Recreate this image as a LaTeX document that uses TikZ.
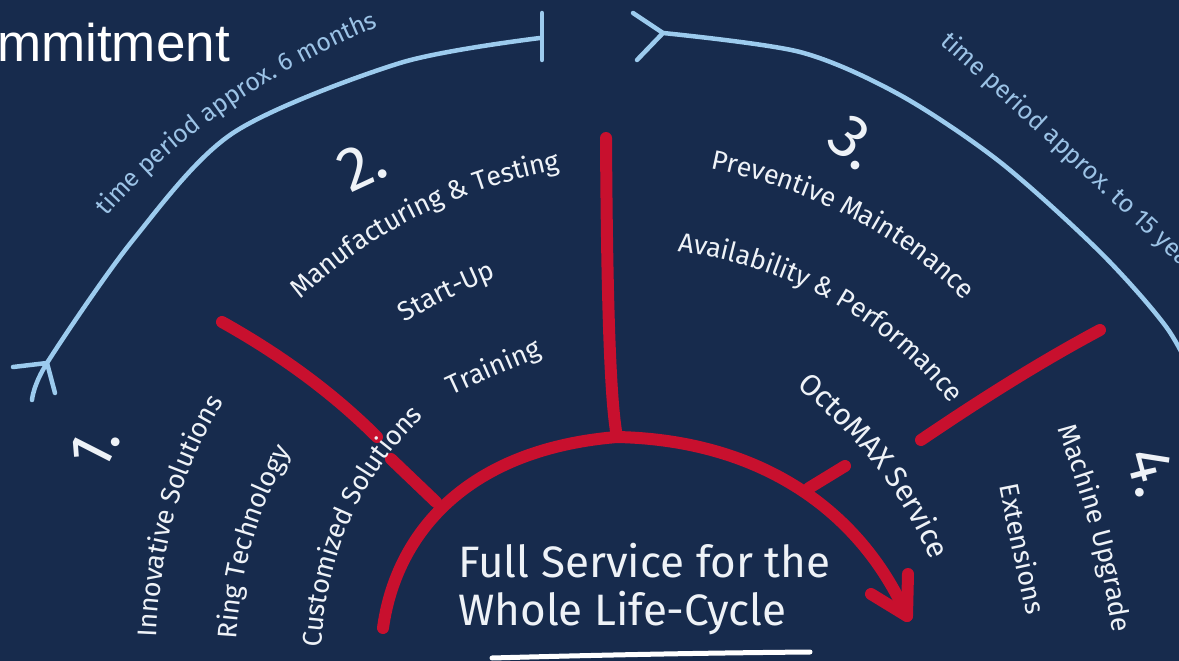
\documentclass[tikz,border=0pt]{standalone}
\usepackage{fontspec}
\setmainfont{Fira Sans}
\newfontfamily\arialf{Liberation Sans}
\usetikzlibrary{decorations.text}
\definecolor{bg}{HTML}{172B4D}
\definecolor{rd}{HTML}{C8102E}
\definecolor{lb}{HTML}{9CCBEE}
\definecolor{tw}{HTML}{EEF2F7}
\definecolor{tb}{HTML}{9CC3E6}
\newcommand\lblfont{\fontsize{27}{32}\selectfont\color{tw}}
\newcommand\lblbigfont{\fontsize{30}{34}\selectfont\color{tw}}
\newcommand\timefont{\fontsize{25}{30}\selectfont\color{tb}}
\begin{document}
\begin{tikzpicture}[x=1pt,y=-1pt,
  redline/.style={draw=rd, line width=12pt, line cap=round, line join=round},
  blueline/.style={draw=lb, line width=4.5pt, line cap=round, line join=round},
  lbl/.style={decorate, decoration={text along path, text align=center, raise=-8pt, text={|\lblfont|#1}}},
  lblbig/.style={decorate, decoration={text along path, text align=center, raise=-9pt, text={|\lblbigfont|#1}}},
  tlbl/.style={decorate, decoration={text along path, text align=center, raise=-7pt, text={|\timefont|#1}}},
  tlblleft/.style={decorate, decoration={text along path, text align=left, raise=-7pt, text={|\timefont|#1}}},
  num/.style={text=tw, font=\fontsize{62}{66}\selectfont, inner sep=0pt},
  bigtext/.style={anchor=base west, text=tw, font=\fontsize{44}{48}\selectfont, inner sep=0pt},
]
\fill[bg] (0,0) rectangle (1179,661);
\useasboundingbox (0,0) rectangle (1179,661);
\clip (0,0) rectangle (1179,661);

% title fragment
\node[anchor=base west, inner sep=0pt, text=white, font=\arialf\fontsize{53}{60}\selectfont] (title) at (-3,62) {mmitment};

% light blue time arcs
\draw[blueline] plot[smooth] coordinates {(32,400) (47,363) (133,240) (233,133) (400,63) (540,38)};
\draw[blueline] (542,13) -- (542,60);
\draw[blueline] (13,367) -- (47,363) -- (55,393);
\draw[blueline] plot[smooth] coordinates {(663,33) (800,52) (900,95) (1000,162) (1100,252) (1167,328) (1200,390)};
\draw[blueline] (633,13) -- (663,33) -- (637,60);

% time labels
\path[tlbl={time period approx. 6 months}] (90,225) .. controls (165,135) and (270,60) .. (392,14);
\path[tlblleft={time period approx. to 15 years}] (944,38) .. controls (1030,115) and (1120,200) .. (1260,330);

% red structure
\coordinate (top) at (617,437);
\coordinate (tip) at (907,616);
\draw[redline] (383,628) .. controls (395,540) and (460,450) .. (top)
  .. controls (760,440) and (860,510) .. (tip);
\draw[redline] (871,594) -- (tip) -- (908,574);
\draw[redline] (222,322) .. controls (290,360) and (340,400) .. (377,437);
\draw[redline] (391,459) -- (436,502);
\draw[redline] (606,138) .. controls (607,300) and (610,400) .. (top);
\draw[redline] (1100,330) .. controls (1040,362) and (980,400) .. (921,440);
\draw[redline] (845,466) -- (809,488);

% white underline
\draw[white, line width=5pt, line cap=round] (492,658) .. controls (600,655) and (700,653) .. (810,652);

% numbers
\node[num, rotate=63] (n1) at (95,447) {1.};
\node[num, rotate=25] (n2) at (362,165) {2.};
\node[num, rotate=-40] (n3) at (855,142) {3.};
\node[num, rotate=-75] (n4) at (1152,472) {4.};

% phase 1
\path[lbl={Innovative Solutions}] (148,655) .. controls (150,540) and (178,455) .. (227,383);
\path[lbl={Ring Technology}] (228,658) .. controls (230,570) and (252,495) .. (295,431);
\path[lbl={Customized Solutions}] (313,660) .. controls (315,560) and (350,470) .. (428,402);

% phase 2
\path[lbl={Manufacturing {\&} Testing}] (280,309) .. controls (345,240) and (440,180) .. (580,158);
\path[lbl={Start-Up}] (390,322) .. controls (425,300) and (462,282) .. (505,265);
\path[lbl={Training}] (440,392) .. controls (470,378) and (505,362) .. (548,345);

% phase 3
\path[lbl={Preventive Maintenance}] (690,157) .. controls (790,172) and (905,220) .. (985,311);
\path[lbl={Availability {\&} Performance}] (665,242) .. controls (770,252) and (885,300) .. (965,410);
\path[lblbig={OctoMAX Service}] (780,360) .. controls (850,420) and (912,475) .. (950,585);

% phase 4
\path[lbl={Extensions}] (1006,478) .. controls (1015,525) and (1025,570) .. (1036,620);
\path[lbl={Machine Upgrade}] (1062,418) .. controls (1090,490) and (1112,565) .. (1122,640);

% centre text
\node[bigtext] (full1) at (458,577) {Full Service for the};
\node[bigtext] (full2) at (458,625) {Whole Life-Cycle};
\end{tikzpicture}
\end{document}
